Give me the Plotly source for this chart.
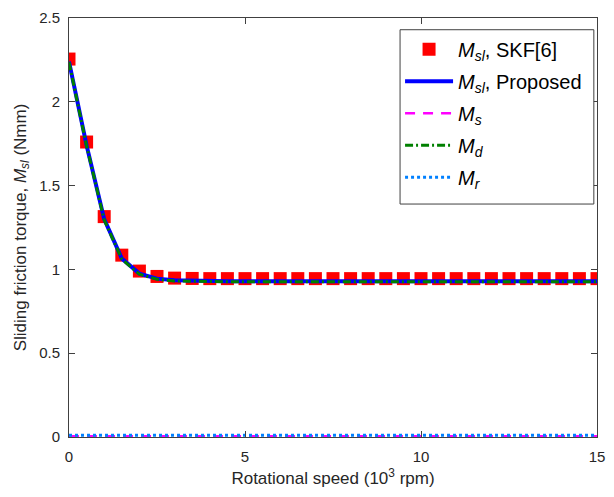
import plotly.graph_objects as go

speed = [i * 0.5 for i in range(31)]  # 10^3 rpm
m_sl_skf = [2.255, 1.76, 1.315, 1.085, 0.99, 0.958, 0.948, 0.946, 0.945, 0.945, 0.945,
            0.945, 0.945, 0.945, 0.945, 0.945, 0.945, 0.945, 0.945, 0.945, 0.945,
            0.945, 0.945, 0.945, 0.945, 0.945, 0.945, 0.945, 0.945, 0.945, 0.945]
m_sl_prop = [2.24, 1.74, 1.30, 1.065, 0.975, 0.945, 0.935, 0.932, 0.931, 0.93, 0.93,
             0.93, 0.93, 0.93, 0.93, 0.93, 0.93, 0.93, 0.93, 0.93, 0.93,
             0.93, 0.93, 0.93, 0.93, 0.93, 0.93, 0.93, 0.93, 0.93, 0.93]
m_s = [0.004] * 31
m_d = [2.236, 1.736, 1.296, 1.061, 0.971, 0.941, 0.931, 0.928, 0.927, 0.926, 0.926,
       0.926, 0.926, 0.926, 0.926, 0.926, 0.926, 0.926, 0.926, 0.926, 0.926,
       0.926, 0.926, 0.926, 0.926, 0.926, 0.926, 0.926, 0.926, 0.926, 0.926]
m_r = [0.011] * 31

x_ticks = [0, 5, 10, 15]
y_ticks = [0, 0.5, 1, 1.5, 2, 2.5]

M = lambda sub: f"<i>M</i><sub><i>{sub}</i></sub>"

fig = go.Figure()
fig.add_trace(go.Scatter(x=speed, y=m_sl_skf, mode="markers", name=f"{M('sl')}, SKF[6]",
                         marker=dict(symbol="square", size=13, color="#ff0000"),
                         legendgroup="a"))
fig.add_trace(go.Scatter(x=speed, y=m_sl_prop, mode="lines", name=f"{M('sl')}, Proposed",
                         line=dict(color="#0000ff", width=4), legendgroup="b"))
fig.add_trace(go.Scatter(x=speed, y=m_s, mode="lines", name=M('s'),
                         line=dict(color="#ff00ff", width=2.5, dash="10px,8px"), legendgroup="c"))
fig.add_trace(go.Scatter(x=speed, y=m_d, mode="lines", name=M('d'),
                         line=dict(color="#008000", width=3, dash="8px,3px,2px,3px"), legendgroup="d"))
fig.add_trace(go.Scatter(x=speed, y=m_r, mode="lines", name=M('r'),
                         line=dict(color="#0080ff", width=3, dash="3px,3px"), legendgroup="e"))

axis_common = dict(showgrid=False, zeroline=False, showline=True, mirror="ticks",
                   linecolor="#404040", linewidth=1, ticks="inside", ticklen=6,
                   tickcolor="#404040", tickfont=dict(size=15, color="#262626"),
                   ticklabeloverflow="allow")

fig.update_layout(
    width=614, height=497,
    margin=dict(l=69, r=9, t=14, b=60),
    paper_bgcolor="white", plot_bgcolor="white",
    font=dict(family="Liberation Sans, Arial", color="#262626"),
    showlegend=True,
    legend=dict(x=0.627, y=0.972, xanchor="left", yanchor="top",
                borderwidth=0, bgcolor="rgba(0,0,0,0)",
                font=dict(size=20, color="#000000"), tracegroupgap=3, itemwidth=48),
    shapes=[dict(type="rect", xref="paper", yref="paper", x0=0.627, x1=0.994,
                 y0=0.556, y1=0.972, line=dict(color="#404040", width=1),
                 fillcolor="white", layer="above")],
    xaxis=dict(range=[0, 15], tickvals=x_ticks, ticklabelstandoff=6,
               title=dict(text="Rotational speed (10<sup>3</sup> rpm)", font=dict(size=17), standoff=8),
               **axis_common),
    yaxis=dict(range=[0, 2.5], tickvals=y_ticks, ticktext=["0", "0.5", "1", "1.5", "2", "2.5"],
               ticklabelstandoff=5,
               title=dict(text=f"Sliding friction torque, {M('sl')} (Nmm)", font=dict(size=17), standoff=8),
               **axis_common),
)

fig.write_html("out.html", post_script="document.body.style.margin='0';",
               config={"displayModeBar": False})
